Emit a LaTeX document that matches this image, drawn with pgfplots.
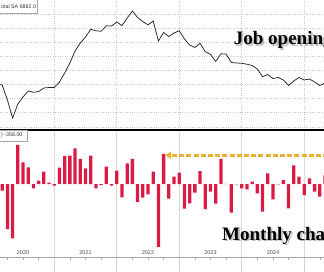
\documentclass[border=0pt]{standalone}
\usepackage{pgfplots}
\pgfplotsset{compat=1.18}
\usepackage{fontspec}
\setmainfont{Liberation Serif}
\newfontfamily\sansf{Liberation Sans}
\definecolor{barred}{RGB}{218,28,68}
\definecolor{gold}{RGB}{232,178,52}
\begin{document}
\begin{tikzpicture}
\useasboundingbox (0pt,0pt) rectangle (324pt,271pt);
\clip (0pt,0pt) rectangle (324pt,271pt);
% top panel
\begin{axis}[
  at={(0pt,142pt)}, anchor=south west, scale only axis,
  width=324pt, height=129pt,
  xmin=-0.42, xmax=61.8, ymin=3844, ymax=12993,
  axis line style={draw=none},
  xtick={10,22,34,46,58}, ytick={4000,5000,...,12000},
  xticklabels={}, yticklabels={},
  scaled y ticks=false, scaled x ticks=false,
  tick style={draw=none},
  grid=major, major grid style={gray!45, dotted, line width=0.6pt},
  clip=true,
]
\addplot[black!85, line width=0.75pt] coordinates {
(-1,7050)(0,6965)(1,5901)(2,4624)(3,5617)(4,6114)(5,6539)(6,6447)(7,6504)(8,6752)(9,6787)
(10,6787)(11,7177)(12,7816)(13,8525)(14,9376)(15,9943)(16,10369)(17,10915)(18,10809)(19,10773)
(20,11163)(21,11149)(22,11433)(23,11170)(24,11716)(25,12213)(26,11752)(27,11468)(28,11234)(29,11504)
(30,10085)(31,10688)(32,10404)(33,10653)(34,10816)(35,10227)(36,9801)(37,9624)(38,9922)(39,9326)
(40,9149)(41,8631)(42,9177)(43,9163)(44,8560)(45,8525)(46,8504)(47,8440)(48,8348)(49,8099)
(50,7553)(51,7709)(52,7426)(53,7497)(54,7319)(55,6929)(56,7248)(57,7497)(58,7319)(59,7390)
(60,7177)(61,6929)(62,7106)};
\end{axis}
% bottom panel
\begin{axis}[
  at={(0pt,14pt)}, anchor=south west, scale only axis,
  width=324pt, height=126pt,
  xmin=-0.42, xmax=61.8, ymin=-1713, ymax=1244,
  axis x line*=bottom, axis y line=none,
  x axis line style={gray!70, line width=0.5pt},
  xtick={10,22,34,46,58}, xticklabels={},
  minor xtick={1,4,7,13,16,19,25,28,31,37,40,43,49,52,55,61},
  ytick={-1500,-1000,...,1000}, yticklabels={},
  scaled y ticks=false,
  tick align=outside,
  major tick length=16pt, minor tick length=2.5pt,
  major tick style={gray!35, line width=0.6pt},
  minor tick style={gray!70, line width=0.5pt},
  xmajorgrids, ymajorgrids,
  x grid style={gray!30, line width=0.6pt},
  y grid style={gray!45, dotted, line width=0.6pt},
  extra x ticks={4,16,28,40,52},
  extra x tick labels={2020,2021,2022,2023,2024},
  extra x tick style={grid=none, major tick length=0pt,
     xticklabel style={anchor=base, yshift=3pt}},
  /pgf/number format/assume math mode=true,
  xticklabel style={font=\sansf\fontsize{5.5}{6}\selectfont, text=black!70},
  clip=true,
]
\addplot[ybar, bar width=0.63, fill=barred, draw=none] coordinates {
(0,-157)(1,-1057)(2,-1277)(3,916)(4,510)(5,392)(6,-101)(7,78)(8,290)(9,31)
(10,-39)(11,384)(12,658)(13,666)(14,838)(15,588)(16,368)(17,666)(18,-101)(19,-20)
(20,407)(21,-39)(22,313)(23,-313)(24,486)(25,588)(26,-423)(27,-322)(28,-242)(29,290)
(30,-1473)(31,705)(32,-345)(33,172)(34,266)(35,-580)(36,-454)(37,-200)(38,305)(39,-588)
(40,-180)(41,-460)(42,590)(43,5)(44,-673)(45,-10)(46,-101)(47,-125)(48,55)(49,-219)
(50,-650)(51,250)(52,-360)(53,-10)(54,94)(55,-572)(56,439)(57,172)(58,-258)(59,133)
(60,-180)(61,-298)(62,200)};
\draw[gold, line width=3.2pt, dash pattern=on 5pt off 2.2pt] (axis cs:32.6,674) -- (axis cs:63,674);
\fill[gold] (axis cs:31.3,674) -- ++(6pt,3.8pt) -- ++(0pt,-7.6pt) -- cycle;
\end{axis}
% separator
\draw[black, line width=2pt] (0pt,141pt) -- (324pt,141pt);
% legend boxes
\draw[gray!70, fill=white, line width=0.5pt] (-1pt,257.7pt) rectangle (37.7pt,272pt);
\node[anchor=west, inner sep=0pt, font=\sansf\fontsize{5.3}{6}\selectfont, text=black!80] at (1pt,264.6pt) {otal SA 6882.0};
\draw[gray!70, fill=white, line width=0.5pt] (-1pt,130pt) rectangle (27.7pt,141pt);
\node[anchor=west, inner sep=0pt, font=\sansf\fontsize{5.3}{6}\selectfont, text=black!80] at (1pt,135.5pt) {) -358.00};
% titles with shadow
\node[anchor=base west, inner sep=0pt, font=\bfseries\fontsize{19}{20}\selectfont, text=gray!50] at (235.5pt,224.3pt) {Job openings};
\node[anchor=base west, inner sep=0pt, font=\bfseries\fontsize{19}{20}\selectfont, text=black] at (233.7pt,226pt) {Job openings};
\node[anchor=base west, inner sep=0pt, font=\bfseries\fontsize{19}{20}\selectfont, text=gray!50] at (223.8pt,29.3pt) {Monthly change};
\node[anchor=base west, inner sep=0pt, font=\bfseries\fontsize{19}{20}\selectfont, text=black] at (222pt,31pt) {Monthly change};
\end{tikzpicture}
\end{document}
